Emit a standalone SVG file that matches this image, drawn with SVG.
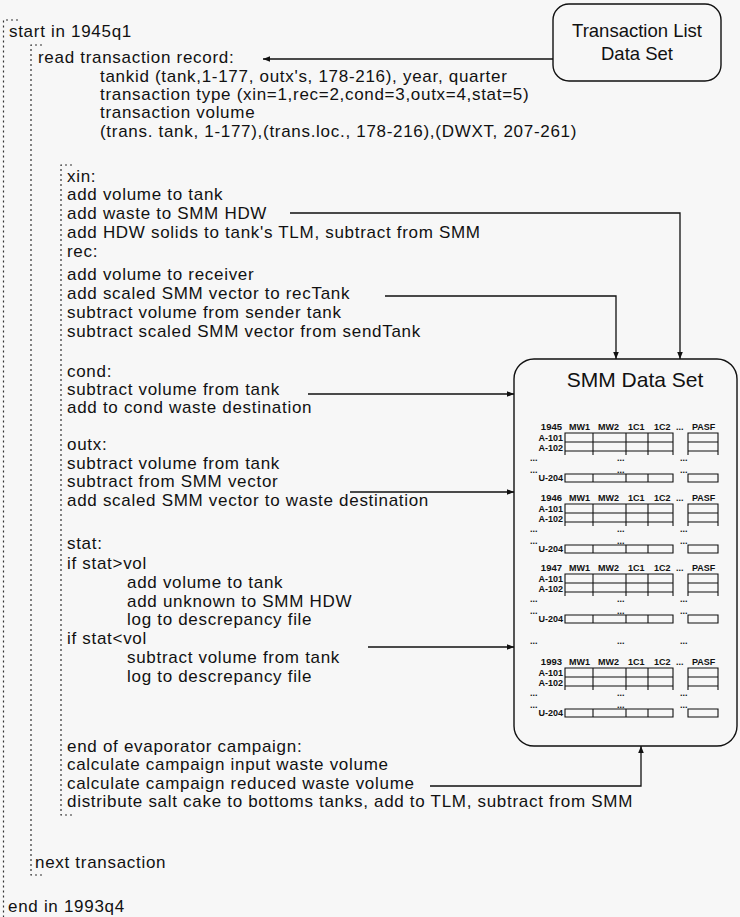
<svg xmlns="http://www.w3.org/2000/svg" xmlns:xlink="http://www.w3.org/1999/xlink" width="740" height="917" viewBox="0 0 740 917">
<style>
.t{font-family:"Liberation Sans",Arial,sans-serif;font-size:17px;letter-spacing:0.7px;fill:#111}
.b{font-family:"Liberation Sans",Arial,sans-serif;font-size:18.5px;fill:#111}
.s{font-family:"Liberation Sans",Arial,sans-serif;font-size:9px;font-weight:bold;fill:#111}
.y{font-family:"Liberation Sans",Arial,sans-serif;font-size:9.5px;font-weight:bold;fill:#111}
.br{fill:none;stroke:#333;stroke-width:1.2;stroke-dasharray:2 3}
.box{fill:none;stroke:#111;stroke-width:1.4}
.g{fill:none;stroke:#111;stroke-width:1.1}
.c{fill:none;stroke:#111;stroke-width:1.3}
</style>
<defs>
<marker id="ah" viewBox="0 0 10 10" refX="10" refY="5" markerWidth="9" markerHeight="7" markerUnits="userSpaceOnUse" orient="auto">
<path d="M0,1 L10,5 L0,9 z" fill="#111"/>
</marker>
<g id="tbl">
<text class="s" x="569" y="0">MW1</text>
<text class="s" x="598" y="0">MW2</text>
<text class="s" x="628" y="0">1C1</text>
<text class="s" x="654" y="0">1C2</text>
<text class="s" x="676" y="0">...</text>
<text class="s" x="692" y="0">PASF</text>
<text class="s" x="563" y="11" text-anchor="end">A-101</text>
<text class="s" x="563" y="21" text-anchor="end">A-102</text>
<path class="g" d="M565,3H673V21H565Z M565,12H673 M565,21V25 M593,3V25 M626,3V25 M648,3V25 M673,21V25 M688,3H718V21H688Z M688,12H718 M688,21V25 M718,21V25"/>
<text class="s" x="530" y="31">...</text>
<text class="s" x="617" y="31">...</text>
<text class="s" x="680" y="31">...</text>
<text class="s" x="530" y="43">...</text>
<text class="s" x="617" y="43">...</text>
<text class="s" x="680" y="43">...</text>
<text class="s" x="563" y="51" text-anchor="end">U-204</text>
<path class="g" d="M565,44H673V52H565Z M593,44V52 M626,44V52 M648,44V52 M688,44H718V52H688Z"/>
</g>
</defs>
<rect width="740" height="917" fill="#f7f7f7"/>

<g id="loop">
<path class="br" d="M18,20H3.5V917"/>
<text class="t" x="9" y="37">start in 1945q1</text>
<text class="t" x="8" y="912">end in 1993q4</text>
</g>

<g id="transaction">
<path class="br" d="M42,45H31V875H43"/>
<text class="t" x="38" y="63">read transaction record:</text>
<text class="t" x="100" y="82">tankid (tank,1-177, outx's, 178-216), year, quarter</text>
<text class="t" x="100" y="100">transaction type (xin=1,rec=2,cond=3,outx=4,stat=5)</text>
<text class="t" x="100" y="118">transaction volume</text>
<text class="t" x="100" y="137">(trans. tank, 1-177),(trans.loc., 178-216),(DWXT, 207-261)</text>
<text class="t" x="35" y="868">next transaction</text>
</g>

<g id="cases">
<path class="br" d="M72,165H61V815H72"/>
<text class="t" x="67" y="182">xin:</text>
<text class="t" x="67" y="200">add volume to tank</text>
<text class="t" x="67" y="219">add waste to SMM HDW</text>
<text class="t" x="67" y="238">add HDW solids to tank's TLM, subtract from SMM</text>
<text class="t" x="67" y="257">rec:</text>
<text class="t" x="67" y="280">add volume to receiver</text>
<text class="t" x="67" y="299">add scaled SMM vector to recTank</text>
<text class="t" x="67" y="318">subtract volume from sender tank</text>
<text class="t" x="67" y="337">subtract scaled SMM vector from sendTank</text>
<text class="t" x="67" y="377">cond:</text>
<text class="t" x="67" y="395">subtract volume from tank</text>
<text class="t" x="67" y="413">add to cond waste destination</text>
<text class="t" x="67" y="450">outx:</text>
<text class="t" x="67" y="469">subtract volume from tank</text>
<text class="t" x="67" y="487">subtract from SMM vector</text>
<text class="t" x="67" y="506">add scaled SMM vector to waste destination</text>
<text class="t" x="67" y="549">stat:</text>
<text class="t" x="67" y="569">if stat&gt;vol</text>
<text class="t" x="127" y="588">add volume to tank</text>
<text class="t" x="127" y="607">add unknown to SMM HDW</text>
<text class="t" x="127" y="625">log to descrepancy file</text>
<text class="t" x="67" y="644">if stat&lt;vol</text>
<text class="t" x="127" y="663">subtract volume from tank</text>
<text class="t" x="127" y="682">log to descrepancy file</text>
<text class="t" x="67" y="752">end of evaporator campaign:</text>
<text class="t" x="67" y="770">calculate campaign input waste volume</text>
<text class="t" x="67" y="789">calculate campaign reduced waste volume</text>
<text class="t" x="67" y="807">distribute salt cake to bottoms tanks, add to TLM, subtract from SMM</text>
</g>

<g id="transactionList">
<rect class="box" x="553" y="4" width="168" height="77" rx="16"/>
<text class="b" x="637" y="37" text-anchor="middle">Transaction List</text>
<text class="b" x="637" y="60" text-anchor="middle">Data Set</text>
</g>

<g id="smm">
<rect class="box" x="514" y="359" width="223" height="387" rx="20"/>
<text class="b" x="635" y="387" text-anchor="middle" style="font-size:21px">SMM Data Set</text>
<text class="y" x="562" y="430" text-anchor="end">1945</text>
<use xlink:href="#tbl" y="430"/>
<text class="y" x="562" y="501" text-anchor="end">1946</text>
<use xlink:href="#tbl" y="501"/>
<text class="y" x="562" y="571" text-anchor="end">1947</text>
<use xlink:href="#tbl" y="571"/>
<text class="s" x="530" y="644">...</text>
<text class="s" x="617" y="644">...</text>
<text class="s" x="680" y="644">...</text>
<text class="y" x="562" y="665" text-anchor="end">1993</text>
<use xlink:href="#tbl" y="665"/>
</g>

<g id="connectors">
<path class="c" d="M553,59H263" marker-end="url(#ah)"/>
<path class="c" d="M290,213H680V359" marker-end="url(#ah)"/>
<path class="c" d="M385,296H616V359" marker-end="url(#ah)"/>
<path class="c" d="M308,394H514" marker-end="url(#ah)"/>
<path class="c" d="M350,492H514" marker-end="url(#ah)"/>
<path class="c" d="M368,647H514" marker-end="url(#ah)"/>
<path class="c" d="M430,786H641V746" marker-end="url(#ah)"/>
</g>
</svg>
